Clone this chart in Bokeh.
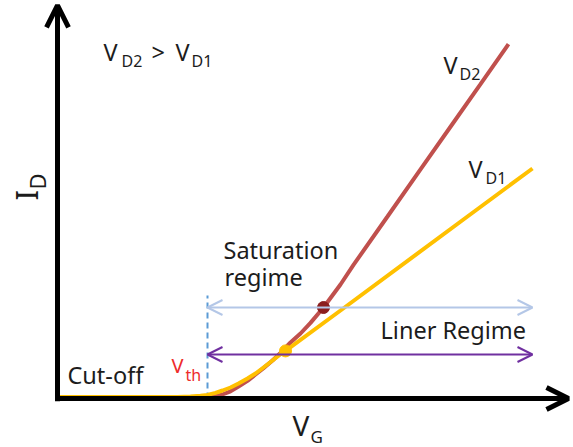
import math
from bokeh.plotting import figure
from bokeh.models import Range1d, Arrow, OpenHead, Label
from bokeh.embed import file_html
from bokeh.resources import INLINE

# ---- data (V_G, I_D in arbitrary units) ----
vg_vd1 = [0.0, 1.2, 2.4, 2.66, 2.86, 3.0, 3.16, 3.3, 3.46, 3.62, 3.8, 3.96, 4.12, 4.3, 4.46, 4.56, 5.66, 8.2, 9.5]
id_vd1 = [0.04, 0.04, 0.04, 0.05, 0.07, 0.09, 0.14, 0.2, 0.275, 0.375, 0.5, 0.625, 0.775, 0.95, 1.11, 1.19, 2.2, 4.55, 5.75]

vg_vd2 = [0.0, 2.9, 3.0, 3.16, 3.3, 3.46, 3.62, 3.8, 3.96, 4.12, 4.3, 4.46, 4.66, 4.86, 5.06, 5.32, 5.66, 5.92, 6.6, 7.26, 7.92, 8.46, 9.02]
id_vd2 = [0.0, 0.0, 0.01, 0.06, 0.1, 0.18, 0.3, 0.44, 0.6, 0.76, 0.95, 1.14, 1.4, 1.625, 1.89, 2.275, 2.85, 3.34, 4.55, 5.73, 6.9, 7.86, 8.86]

vth = 3.0
vth_marker_top = 2.575
sat_point = (5.32, 2.275)     # saturation onset on V_D2 curve
lin_point = (4.56, 1.19)      # onset on V_D1 curve
regime_end = 9.5
sat_arrow_level = 2.275
lin_arrow_level = 1.1
vg_axis_max = 10.22
id_axis_max = 9.83

FONT = "Noto Sans"
TXT = "#1c1c1c"

X_PX = 50.0   # pixels per V_G unit
Y_PX = 40.0   # pixels per I_D unit

p = figure(width=573, height=447, output_backend="svg", toolbar_location=None,
           x_axis_location=None, y_axis_location=None,
           x_range=Range1d(-1.14, 10.32), y_range=Range1d(-1.225, 9.95),
           min_border=0, min_border_left=0, min_border_right=0,
           min_border_top=0, min_border_bottom=0)
p.outline_line_color = None
p.xgrid.visible = False
p.ygrid.visible = False
p.background_fill_color = "white"
p.border_fill_color = "white"

# regime arrows
p.add_layout(Arrow(x_start=vth, y_start=sat_arrow_level, x_end=regime_end, y_end=sat_arrow_level,
                   line_color="#B4C7E7", line_width=2,
                   start=OpenHead(size=15, line_color="#B4C7E7", line_width=2),
                   end=OpenHead(size=15, line_color="#B4C7E7", line_width=2)))
p.add_layout(Arrow(x_start=vth, y_start=lin_arrow_level, x_end=regime_end, y_end=lin_arrow_level,
                   line_color="#7030A0", line_width=2,
                   start=OpenHead(size=15, line_color="#7030A0", line_width=2),
                   end=OpenHead(size=15, line_color="#7030A0", line_width=2)))

# threshold marker
p.segment(x0=[vth], y0=[0], x1=[vth], y1=[vth_marker_top], line_color="#5B9BD5",
          line_width=2, line_dash="6 4")

# curves
p.line(vg_vd2, id_vd2, line_color="#C0504D", line_width=4)
p.line(vg_vd1, id_vd1, line_color="#FFC000", line_width=4)

# axes
p.add_layout(Arrow(x_start=0, y_start=-0.07, x_end=0, y_end=id_axis_max,
                   line_color="black", line_width=5,
                   end=OpenHead(size=22, line_color="black", line_width=5)))
p.add_layout(Arrow(x_start=-0.05, y_start=0, x_end=vg_axis_max, y_end=0,
                   line_color="black", line_width=5,
                   end=OpenHead(size=22, line_color="black", line_width=5)))

# points
p.scatter([sat_point[0]], [sat_point[1]], size=12, fill_color="#8B1E1E", line_color="#8B1E1E")
p.scatter([lin_point[0]], [lin_point[1]], size=12, fill_color="#FFC000", line_color="#FFC000")


def lab(x, y, text, size, color=TXT, rotated=False, font=FONT):
    # compensate the renderer's baseline offset (~0.37 em)
    shift = 0.37 * size
    if rotated:
        x = x - shift / X_PX
    else:
        y = y + shift / Y_PX
    p.add_layout(Label(x=x, y=y, text=text, text_font=font, text_font_size=f"{size}px",
                       text_color=color, text_align="left", text_baseline="alphabetic",
                       angle=math.pi / 2 if rotated else 0.0))

# V_D2 > V_D1
lab(0.92, 8.45, "V", 23.5)
lab(1.28, 8.30, "D2", 16)
lab(1.88, 8.45, ">", 23.5)
lab(2.36, 8.45, "V", 23.5)
lab(2.68, 8.30, "D1", 16)

# curve labels
lab(7.72, 8.125, "V", 23.5)
lab(8.04, 7.975, "D2", 16)
lab(8.22, 5.525, "V", 23.5)
lab(8.56, 5.375, "D1", 16)

# regime labels
lab(3.32, 3.5, "Saturation", 23.5)
lab(3.34, 2.825, "regime", 23.5)
lab(6.46, 1.5, "Liner Regime", 23.5)
lab(0.2, 0.375, "Cut-off", 23.5)

# V_th
lab(2.28, 0.65, "V", 20, color="#EE2B2B")
lab(2.56, 0.45, "th", 16, color="#EE2B2B")

# axis titles
lab(-0.4, 4.95, "I", 31, rotated=True)
lab(-0.24, 5.225, "D", 22, rotated=True)
lab(4.7, -0.925, "V", 28)
lab(5.06, -1.1, "G", 17)

open("out.html", "w").write(file_html(p, INLINE))
